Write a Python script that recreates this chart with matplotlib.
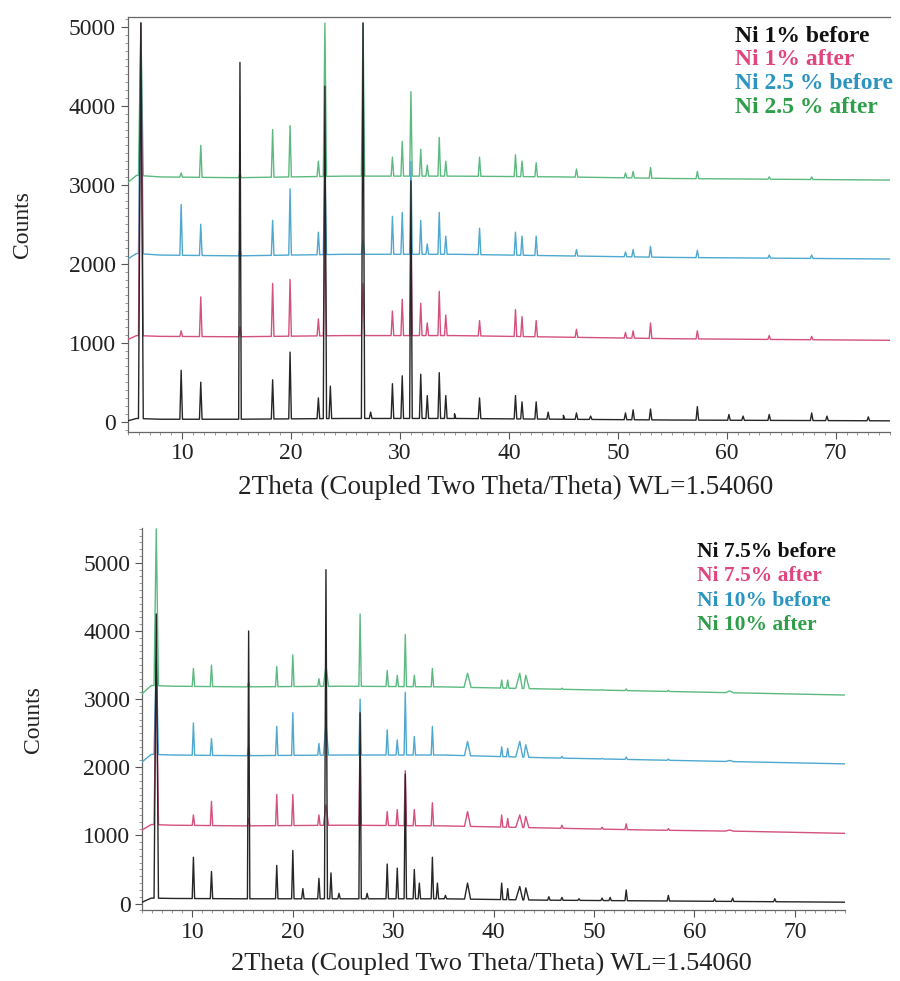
import numpy as np
import matplotlib
matplotlib.use("Agg")
import matplotlib.pyplot as plt
from matplotlib.ticker import MultipleLocator

plt.rcParams['font.family'] = ['Liberation Serif', 'DejaVu Serif']

# baseline knots (2theta, counts) and peaks (2theta, top counts[, half width])
# ---- top panel: Ni 1% / 2.5%
top_base_x = [5.0, 5.8, 8, 15, 25, 35, 45, 55, 65, 75]
top_black_base = [10, 40, 30, 30, 40, 40, 30, 20, 15, 10]
top_pink_base = [1040, 1090, 1080, 1075, 1090, 1090, 1070, 1050, 1040, 1030]
top_blue_base = [2060, 2130, 2110, 2100, 2120, 2120, 2100, 2080, 2070, 2060]
top_green_base = [3030, 3120, 3100, 3090, 3110, 3110, 3100, 3080, 3070, 3060]

top_black_peaks = [(6.2, 5050, 0.22), (9.9, 650), (11.7, 500), (15.3, 4550), (18.3, 530),
                   (19.9, 880), (22.5, 300), (23.1, 4250, 0.15), (23.6, 450), (26.6, 5050, 0.15),
                   (27.3, 120), (29.3, 480), (30.2, 580), (31.0, 3050), (31.9, 600), (32.5, 330),
                   (33.6, 620), (34.2, 330), (35.0, 100), (37.3, 300), (40.6, 330), (41.2, 250),
                   (42.5, 250), (43.6, 120), (45.0, 80), (46.2, 110), (47.5, 70), (50.7, 110),
                   (51.4, 150), (53.0, 160), (57.3, 190), (60.2, 90), (61.5, 70), (63.9, 90),
                   (67.8, 110), (69.2, 70), (73.0, 60)]
top_pink_peaks = [(6.2, 5050, 0.22), (9.9, 1150), (11.7, 1580), (15.3, 1200), (18.3, 1750),
                  (19.9, 1800), (22.5, 1300), (23.1, 2400, 0.15), (26.6, 1750, 0.15), (29.3, 1400),
                  (30.2, 1550), (31.0, 2700), (31.9, 1500), (32.5, 1250), (33.6, 1650), (34.2, 1350),
                  (37.3, 1280), (40.6, 1420), (41.2, 1330), (42.5, 1280), (46.2, 1170), (50.7, 1130),
                  (51.4, 1150), (53.0, 1250), (57.3, 1150), (63.9, 1090), (67.8, 1080)]
top_blue_peaks = [(6.2, 5050, 0.22), (9.9, 2750), (11.7, 2500), (15.3, 2200), (18.3, 2550),
                  (19.9, 2950), (22.5, 2400), (23.1, 3300, 0.15), (26.6, 2300, 0.15), (29.3, 2600),
                  (30.2, 2650), (31.0, 3300), (31.9, 2550), (32.5, 2250), (33.6, 2650), (34.2, 2350),
                  (37.3, 2450), (40.6, 2400), (41.2, 2350), (42.5, 2350), (46.2, 2180), (50.7, 2150),
                  (51.4, 2180), (53.0, 2220), (57.3, 2170), (63.9, 2110), (67.8, 2110)]
top_green_peaks = [(6.2, 5050, 0.22), (9.9, 3150), (11.7, 3500), (15.3, 3150), (18.3, 3700),
                   (19.9, 3750), (22.5, 3300), (23.1, 5050, 0.15), (26.6, 5050, 0.15), (29.3, 3350),
                   (30.2, 3550), (31.0, 4180), (31.9, 3450), (32.5, 3250), (33.6, 3600), (34.2, 3300),
                   (37.3, 3350), (40.6, 3380), (41.2, 3300), (42.5, 3280), (46.2, 3200), (50.7, 3150),
                   (51.4, 3170), (53.0, 3220), (57.3, 3170), (63.9, 3100), (67.8, 3100)]

# ---- bottom panel: Ni 7.5% / 10%
bot_base_x = [5.0, 5.9, 8, 15, 25, 35, 45, 55, 65, 75]
bot_black_base = [20, 80, 75, 70, 70, 70, 50, 40, 30, 20]
bot_pink_base = [1080, 1160, 1150, 1140, 1150, 1140, 1110, 1080, 1060, 1030]
bot_blue_base = [2080, 2190, 2180, 2170, 2180, 2180, 2140, 2110, 2080, 2050]
bot_green_base = [3080, 3200, 3190, 3180, 3190, 3180, 3150, 3120, 3090, 3060]

bot_black_peaks = [(6.4, 4250, 0.22), (10.1, 680), (11.9, 470), (15.6, 4000), (18.4, 560),
                   (20.0, 780), (21.0, 220), (22.6, 370), (23.3, 4900, 0.15), (23.8, 450),
                   (24.6, 150), (26.7, 2800), (27.4, 150), (29.4, 580), (30.4, 520), (31.2, 1900),
                   (32.1, 500), (32.6, 300), (33.9, 680), (34.4, 300), (35.2, 120), (37.4, 300, 0.3),
                   (40.8, 300), (41.4, 220), (42.6, 250, 0.4), (43.2, 230, 0.3), (45.5, 100),
                   (46.8, 90), (48.5, 70), (50.8, 80), (51.6, 90), (53.2, 200), (57.4, 120),
                   (62.0, 70), (63.8, 80), (68.0, 70)]
bot_pink_peaks = [(6.4, 3500, 0.22), (10.1, 1300), (11.9, 1500), (15.6, 1250), (18.4, 1600),
                  (20.0, 1600), (22.6, 1300), (23.3, 1450, 0.25), (26.7, 2500), (29.4, 1350),
                  (30.4, 1380), (31.2, 1950), (32.1, 1380), (33.9, 1480), (37.4, 1350, 0.3),
                  (40.8, 1300), (41.4, 1250), (42.6, 1300, 0.4), (43.2, 1280, 0.3), (46.8, 1150),
                  (50.8, 1120), (53.2, 1170), (57.4, 1100), (63.5, 1080, 0.4)]
bot_blue_peaks = [(6.4, 3600, 0.22), (10.1, 2650), (11.9, 2420), (15.6, 2300), (18.4, 2600),
                  (20.0, 2800), (22.6, 2350), (23.3, 2650, 0.25), (26.7, 3000), (29.4, 2550),
                  (30.4, 2400), (31.2, 3100), (32.1, 2450), (33.9, 2600), (37.4, 2380, 0.3),
                  (40.8, 2300), (41.4, 2280), (42.6, 2380, 0.4), (43.2, 2330, 0.3), (46.8, 2160),
                  (50.8, 2130), (53.2, 2150), (57.4, 2120), (63.5, 2100, 0.4)]
bot_green_peaks = [(6.4, 5500, 0.22), (10.1, 3450), (11.9, 3500), (15.6, 3250), (18.4, 3480),
                   (20.0, 3650), (22.6, 3300), (23.3, 3500, 0.25), (26.7, 4250), (29.4, 3420),
                   (30.4, 3350), (31.2, 3950), (32.1, 3350), (33.9, 3450), (37.4, 3380, 0.35),
                   (40.8, 3280), (41.4, 3280), (42.6, 3380, 0.4), (43.2, 3350, 0.35), (46.8, 3160),
                   (50.8, 3140), (53.2, 3150), (57.4, 3130), (63.5, 3120, 0.4)]

top_labels = ["Ni 1% before", "Ni 1% after", "Ni 2.5 % before", "Ni 2.5 % after"]
bot_labels = ["Ni 7.5% before", "Ni 7.5% after", "Ni 10% before", "Ni 10% after"]

line_colors = ["#262626", "#d4507e", "#4ea8d0", "#5cba80"]
text_colors = ["#111111", "#e0457f", "#2b95c0", "#2e9e48"]


def trace(bx, by, peaks):
    pts = list(zip(bx, by))
    for p in peaks:
        pos, h = p[0], p[1]
        w = p[2] if len(p) > 2 else 0.12
        for xx in (pos - w, pos + w):
            pts.append((xx, float(np.interp(xx, bx, by))))
        pts.append((pos, h))
    pts.sort()
    x, y = zip(*pts)
    return x, y


def panel(ax, bx, bases, peaks, labels, ylim, legend_xy, legend_fs, legend_step, top_spine, xlabel_fs):
    # black drawn last so it sits on top, like the original
    for z, (b, pk, c) in enumerate(zip(bases, peaks, line_colors)):
        x, y = trace(bx, b, pk)
        ax.plot(x, y, color=c, lw=1.0, zorder=10 - z)
    ax.set_xlim(5, 75)
    ax.set_ylim(*ylim)
    ax.xaxis.set_major_locator(MultipleLocator(10))
    ax.xaxis.set_minor_locator(MultipleLocator(1))
    ax.yaxis.set_major_locator(MultipleLocator(1000))
    ax.yaxis.set_minor_locator(MultipleLocator(100))
    ax.tick_params(which='major', direction='out', length=5, width=0.8, labelsize=17, colors='#555555',
                   labelcolor='#222222')
    ax.tick_params(which='minor', direction='out', length=2.5, width=0.6, colors='#888888')
    ax.spines['right'].set_visible(False)
    ax.spines['top'].set_visible(top_spine)
    for s in ax.spines.values():
        s.set_color('#666666')
        s.set_linewidth(0.9)
    ax.set_xlabel("2Theta (Coupled Two Theta/Theta) WL=1.54060", fontsize=xlabel_fs, color='#222222')
    ax.set_ylabel("Counts", fontsize=17, color='#222222')
    lx, ly = legend_xy
    for i, (lab, c) in enumerate(zip(labels, text_colors)):
        ax.text(lx, ly - i * legend_step, lab, transform=ax.transAxes, color=c, fontsize=legend_fs,
                fontweight='bold', va='top', ha='left')


fig = plt.figure(figsize=(9, 9.81), dpi=100)

ax1 = fig.add_axes([0.142, 0.560, 0.847, 0.423])
panel(ax1, top_base_x, [top_black_base, top_pink_base, top_blue_base, top_green_base],
      [top_black_peaks, top_pink_peaks, top_blue_peaks, top_green_peaks], top_labels,
      (-127, 5130), (0.797, 0.978), 17, 0.057, True, 19.5)
ax1.yaxis.set_label_coords(-0.125, 0.5)
ax1.xaxis.set_label_coords(0.495, -0.105)

ax2 = fig.add_axes([0.158, 0.072, 0.781, 0.390])
panel(ax2, bot_base_x, [bot_black_base, bot_pink_base, bot_blue_base, bot_green_base],
      [bot_black_peaks, bot_pink_peaks, bot_blue_peaks, bot_green_peaks], bot_labels,
      (-100, 5515), (0.79, 0.962), 15.5, 0.063, False, 19)
ax2.yaxis.set_label_coords(-0.14, 0.5)
ax2.xaxis.set_label_coords(0.497, -0.11)

fig.savefig("out.png", dpi=100)
